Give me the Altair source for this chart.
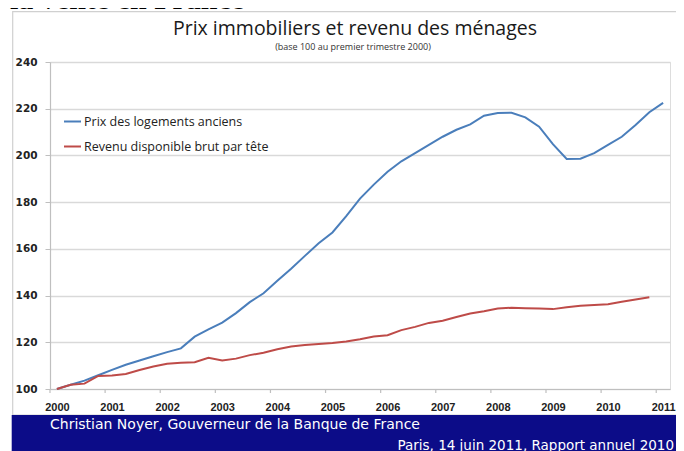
import altair as alt
import pandas as pd

# ---- data (quarterly, base 100 = 2000Q1) ----
series_names = ["Prix des logements anciens", "Revenu disponible brut par tête"]
series_colors = ["#4a7ebb", "#be4b48"]
start_year = 2000

prix = [100.0, 101.8, 103.6, 105.9, 108.2, 110.4, 112.2, 114.0,
        115.8, 117.4, 122.4, 125.5, 128.4, 132.5, 137.2, 141.0,
        146.3, 151.5, 157.0, 162.4, 167.0, 174.0, 181.5, 187.5,
        193.0, 197.5, 201.0, 204.5, 208.0, 211.0, 213.3, 217.0,
        218.2, 218.3, 216.3, 212.3, 204.8, 198.5, 198.6, 201.0,
        204.5, 208.0, 213.0, 218.5, 222.5]

revenu = [100.0, 101.8, 102.3, 105.6, 105.8, 106.4, 108.1, 109.6,
          110.8, 111.2, 111.5, 113.4, 112.2, 113.0, 114.5, 115.5,
          117.0, 118.2, 118.8, 119.3, 119.7, 120.3, 121.3, 122.5,
          123.0, 125.2, 126.6, 128.3, 129.2, 130.8, 132.3, 133.3,
          134.5, 134.8, 134.6, 134.5, 134.2, 135.0, 135.6, 136.0,
          136.3, 137.4, 138.3, 139.3]

year_labels = list(range(2000, 2012))
y_ticks = [100, 120, 140, 160, 180, 200, 220, 240]

header = "la vente en France"
title = "Prix immobiliers et revenu des ménages"
subtitle = "(base 100 au premier trimestre 2000)"
footer1 = "Christian Noyer, Gouverneur de la Banque de France"
footer2 = "Paris, 14 juin 2011, Rapport annuel 2010"

rows = []
for name, vals in zip(series_names, [prix, revenu]):
    for i, v in enumerate(vals):
        rows.append({"t": start_year + i / 4, "v": v, "s": name})
df = pd.DataFrame(rows)
ticks_df = pd.DataFrame({"year": year_labels})
one = pd.DataFrame({"a": [0]})

W, H = 620, 327
xscale = alt.Scale(domain=[1999.875, 2011.125], nice=False, zero=False)
yscale = alt.Scale(domain=[100, 240], nice=False, zero=False)

box = alt.Chart(one).mark_rect(filled=False, stroke="#d0d0d0", strokeWidth=1.2).encode(
    x=alt.value(-37.3), x2=alt.value(630.7), y=alt.value(-50.3), y2=alt.value(353)
)
band = alt.Chart(one).mark_rect(fill="#0c0c88").encode(
    x=alt.value(-38.3), x2=alt.value(634), y=alt.value(353), y2=alt.value(389)
)

lines = alt.Chart(df).mark_line(strokeWidth=2).encode(
    x=alt.X("t:Q", scale=xscale, title=None,
            axis=alt.Axis(values=year_labels, format="d", ticks=False, grid=False,
                          domainColor="#bfbfbf", domainWidth=1.2,
                          labelFont="Liberation Sans", labelFontWeight="bold",
                          labelFontSize=11, labelColor="#222222", labelPadding=12,
                          labelFlush=False)),
    y=alt.Y("v:Q", scale=yscale, title=None,
            axis=alt.Axis(values=y_ticks, grid=True, gridColor="#d9d9d9", gridWidth=1.5,
                          domainColor="#bfbfbf", domainWidth=1.2, tickColor="#bfbfbf",
                          tickSize=5, labelPadding=8,
                          labelFont="DejaVu Sans", labelFontWeight="bold",
                          labelFontSize=10.5, labelColor="#222222")),
    color=alt.Color("s:N", scale=alt.Scale(domain=series_names, range=series_colors),
                    sort=series_names,
                    legend=alt.Legend(title=None, orient="none", legendX=13, legendY=50,
                                      symbolType="stroke", symbolSize=289,
                                      symbolStrokeWidth=2, labelFont="Open Sans",
                                      labelFontSize=12.5, labelColor="#222222",
                                      labelLimit=400,
                                      labelOffset=2, rowPadding=9, padding=0)),
    order="t:Q",
)

xticks = alt.Chart(ticks_df).transform_calculate(tp="datum.year - 0.125").mark_rule(
    color="#bfbfbf", strokeWidth=1.2
).encode(x=alt.X("tp:Q", scale=xscale), y=alt.value(H), y2=alt.value(H + 4))


def txt(s, x, y, size, font, color="#1a1a1a", align="left", weight="normal"):
    return alt.Chart(one).mark_text(text=s, align=align, baseline="alphabetic",
                                    font=font, fontSize=size, fontWeight=weight,
                                    color=color).encode(x=alt.value(x), y=alt.value(y))


texts = [
    txt(header, -40, -53, 30, "Liberation Serif", color="#000000", weight="bold"),
    txt(title, 305, -27, 19.5, "Open Sans", align="center"),
    txt(subtitle, 303, -12, 9, "Open Sans", color="#333333", align="center"),
    txt(footer1, 0, 367, 14, "DejaVu Sans", color="#ffffff"),
    txt(footer2, 624, 388, 13.5, "DejaVu Sans", color="#ffffff", align="right"),
]

chart = alt.layer(box, band, xticks, lines, *texts).properties(
    width=W, height=H,
    autosize=alt.AutoSizeParams(type="none"),
    padding={"left": 42, "top": 54, "right": 6, "bottom": 62},
).configure_view(stroke=None).configure(background="white")

chart.save("out.html", embed_options={"renderer": "svg", "actions": False})
